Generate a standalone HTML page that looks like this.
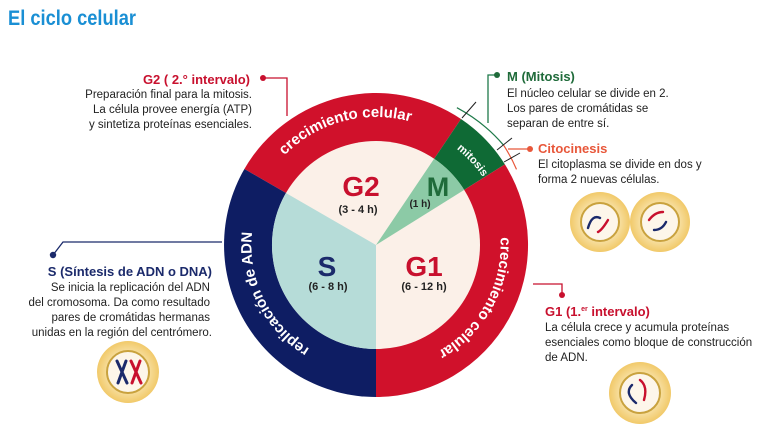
<!DOCTYPE html>
<html><head><meta charset="utf-8"><style>
body{margin:0;background:#fff;}
svg{display:block;font-family:"Liberation Sans",sans-serif;}
</style></head><body>
<svg width="770" height="431" viewBox="0 0 770 431" xmlns="http://www.w3.org/2000/svg">
<defs>
<radialGradient id="cg" cx="50%" cy="50%" r="50%">
<stop offset="0" stop-color="#fdf3d8"/><stop offset="0.6" stop-color="#f8e2a8"/><stop offset="1" stop-color="#f1c969"/>
</radialGradient>
<path id="pTop" d="M265.1,181 A128,128 0 0 1 440,134.1" fill="none"/>
<path id="pRight" d="M485.5,185.9 A122,122 0 0 1 386.6,366.5" fill="none"/>
<path id="pLeft" d="M355,365.5 A122,122 0 0 1 266.6,186" fill="none"/>
<path id="pMit" d="M447,142 A126,126 0 0 1 489,187" fill="none"/>
</defs>

<text x="8" y="25" font-family="Liberation Sans Narrow, Liberation Sans, sans-serif" font-weight="bold" font-size="21" fill="#1a8fd4" textLength="128" lengthAdjust="spacingAndGlyphs">El ciclo celular</text>

<!-- outer ring -->
<path d="M376,245 L244.4,169 A152,152 0 0 1 461,119 Z" fill="#d0112b"/>
<path d="M376,245 L461,119 A152,152 0 0 1 504.9,164.4 Z" fill="#0f6a35"/>
<path d="M376,245 L504.9,164.4 A152,152 0 0 1 376,397 Z" fill="#d0112b"/>
<path d="M376,245 L376,397 A152,152 0 0 1 244.4,169 Z" fill="#0e1d63"/>
<!-- inner -->
<circle cx="376" cy="245" r="104" fill="#fbf0e8"/>
<path d="M376,245 L376,349 A104,104 0 0 1 285.9,193 Z" fill="#b6dcd8"/>
<path d="M376,245 L434.1,158.8 A104,104 0 0 1 464.2,189.9 Z" fill="#8ccaa6"/>

<!-- ring text -->
<text font-size="15" font-weight="bold" fill="#fff"><textPath href="#pTop" startOffset="50%" text-anchor="middle">crecimiento celular</textPath></text>
<text font-size="15" font-weight="bold" fill="#fff"><textPath href="#pRight" startOffset="50%" text-anchor="middle">crecimiento celular</textPath></text>
<text font-size="15" font-weight="bold" fill="#fff"><textPath href="#pLeft" startOffset="50%" text-anchor="middle">replicación de ADN</textPath></text>
<text font-size="11" font-weight="bold" fill="#fff"><textPath href="#pMit" startOffset="50%" text-anchor="middle">mitosis</textPath></text>

<!-- mitosis markers -->
<path d="M456.9,107.7 A162,162 0 0 1 503.7,145.3" fill="none" stroke="#1f7a4a" stroke-width="1.2"/>
<path d="M503.7,145.3 A160,160 0 0 1 516.5,169.4" fill="none" stroke="#e8573a" stroke-width="1.2"/>
<line x1="462" y1="118" x2="476" y2="102" stroke="#222" stroke-width="1"/>
<line x1="497" y1="150" x2="512" y2="138" stroke="#222" stroke-width="1"/>
<line x1="504" y1="162" x2="520" y2="153" stroke="#222" stroke-width="1"/>

<!-- center labels -->
<g font-weight="bold" text-anchor="middle">
<text x="361" y="196" font-size="28" fill="#c8102e">G2</text>
<text x="358" y="213" font-size="11" fill="#222">(3 - 4 h)</text>
<text x="438" y="196" font-size="27" fill="#1f6b3a">M</text>
<text x="420" y="207" font-size="10" fill="#222">(1 h)</text>
<text x="327" y="276" font-size="28" fill="#1b2a6b">S</text>
<text x="328" y="290" font-size="11" fill="#222">(6 - 8 h)</text>
<text x="424" y="276" font-size="28" fill="#c8102e">G1</text>
<text x="424" y="290" font-size="11" fill="#222">(6 - 12 h)</text>
</g>

<!-- connectors -->
<g fill="none" stroke-width="1.3">
<polyline points="263,78 287,78 287,116" stroke="#c8102e"/>
<polyline points="497,75 488,75 488,123" stroke="#1f7a4a"/>
<line x1="508" y1="149" x2="530" y2="149" stroke="#e8573a"/>
<polyline points="53,255 63,242 222,242" stroke="#1b2a6b"/>
<polyline points="533,284 562,284 562,295" stroke="#c8102e"/>
</g>
<circle cx="263" cy="78" r="3" fill="#c8102e"/>
<circle cx="497" cy="75" r="3" fill="#1f6b3a"/>
<circle cx="530" cy="149" r="3" fill="#e8573a"/>
<circle cx="53" cy="255" r="3.2" fill="#1b2a6b"/>
<circle cx="562" cy="295" r="3" fill="#c8102e"/>

<!-- text blocks -->
<g font-size="11.5" fill="#222">
<text x="250" y="84" font-size="13" font-weight="bold" fill="#c8102e" text-anchor="end">G2 ( 2.° intervalo)</text>
<text text-anchor="end"><tspan x="252" y="98">Preparación final para la mitosis.</tspan><tspan x="252" y="113">La célula provee energía (ATP)</tspan><tspan x="252" y="128">y sintetiza proteínas esenciales.</tspan></text>

<text x="507" y="81" font-size="13" font-weight="bold" fill="#1f6b3a">M (Mitosis)</text>
<text><tspan x="507" y="97">El núcleo celular se divide en 2.</tspan><tspan x="507" y="112">Los pares de cromátidas se</tspan><tspan x="507" y="127">separan de entre sí.</tspan></text>

<text x="538" y="153" font-size="13" font-weight="bold" fill="#e8573a">Citocinesis</text>
<text><tspan x="538" y="168">El citoplasma se divide en dos y</tspan><tspan x="538" y="183">forma 2 nuevas células.</tspan></text>

<text x="212" y="276" font-size="13" font-weight="bold" fill="#1b2a6b" text-anchor="end">S (Síntesis de ADN o DNA)</text>
<text text-anchor="end"><tspan x="210" y="291">Se inicia la replicación del ADN</tspan><tspan x="210" y="306">del cromosoma. Da como resultado</tspan><tspan x="210" y="321">pares de cromátidas hermanas</tspan><tspan x="212" y="336">unidas en la región del centrómero.</tspan></text>

<text x="545" y="316" font-size="13" font-weight="bold" fill="#c8102e">G1 (1.<tspan font-size="7" dy="-5">er</tspan><tspan dy="5"> intervalo)</tspan></text>
<text><tspan x="545" y="331">La célula crece y acumula proteínas</tspan><tspan x="545" y="346">esenciales como bloque de construcción</tspan><tspan x="545" y="361">de ADN.</tspan></text>
</g>

<!-- cells -->
<g>
<circle cx="600" cy="222" r="30" fill="url(#cg)"/>
<circle cx="660" cy="222" r="30" fill="url(#cg)"/>
<circle cx="600" cy="222" r="19" fill="#fdf6ea" stroke="#c9a23e" stroke-width="2"/>
<circle cx="660" cy="222" r="19" fill="#fdf6ea" stroke="#c9a23e" stroke-width="2"/>
<path d="M588,228 q4,-14 12,-10" fill="none" stroke="#1b2a6b" stroke-width="2.4" stroke-linecap="round"/>
<path d="M598,232 q4,-2 10,-12" fill="none" stroke="#c8102e" stroke-width="2.4" stroke-linecap="round"/>
<path d="M649,220 q6,-8 14,-8" fill="none" stroke="#c8102e" stroke-width="2.4" stroke-linecap="round"/>
<path d="M654,230 q8,0 12,-8" fill="none" stroke="#1b2a6b" stroke-width="2.4" stroke-linecap="round"/>

<circle cx="128" cy="372" r="31" fill="url(#cg)"/>
<circle cx="128" cy="372" r="21" fill="#fdf6ea" stroke="#c9a23e" stroke-width="2"/>
<path d="M117,361 L127,383 M126,361 L118,383" stroke="#1b2a6b" stroke-width="3" stroke-linecap="round"/>
<path d="M131,361 L141,383 M140,361 L132,383" stroke="#c8102e" stroke-width="3" stroke-linecap="round"/>

<circle cx="640" cy="393" r="31" fill="url(#cg)"/>
<circle cx="640" cy="393" r="20" fill="#fdf6ea" stroke="#c9a23e" stroke-width="2"/>
<path d="M632,385 q-8,8 4,18" fill="none" stroke="#1b2a6b" stroke-width="2.4" stroke-linecap="round"/>
<path d="M640,380 q8,6 4,20" fill="none" stroke="#c8102e" stroke-width="2.4" stroke-linecap="round"/>
</g>
</svg>
</body></html>
